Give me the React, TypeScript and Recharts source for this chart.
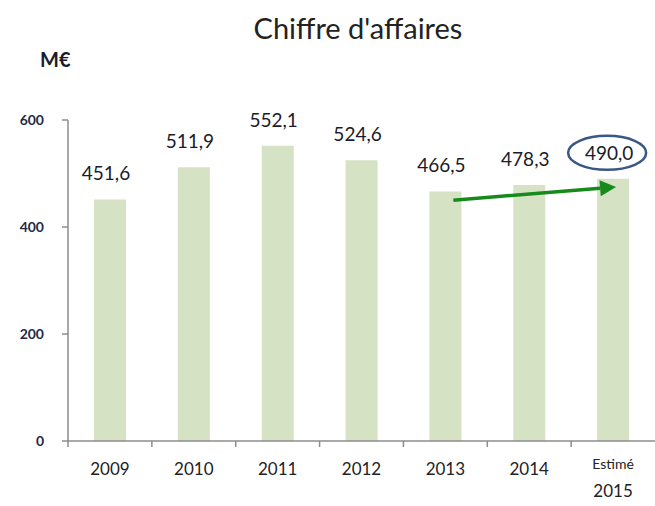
import { BarChart, Bar, XAxis, YAxis, LabelList, ReferenceLine } from 'recharts';

const years = ['2009', '2010', '2011', '2012', '2013', '2014', 'Estimé 2015'];
const revenue = [451.6, 511.9, 552.1, 524.6, 466.5, 478.3, 490.0];
const yTicks = [0, 200, 400, 600];
// trend arrow from 2013 to the 2015 estimate
const arrowFrom = { x: '2013', y: 450 };
const arrowTo = { x: 'Estimé 2015', y: 475 };

const data = years.map((year, i) => ({ year, value: revenue[i] }));

const FONT = 'Lato, "Open Sans", sans-serif';
const fmt = (v: number) => v.toFixed(1).replace('.', ',');

function YearTick(props: any) {
  const { x, y, payload } = props;
  const half = payload.offset ?? 42;
  const label: string = payload.value;
  const parts = label.split(' ');
  return (
    <g>
      <line x1={x - half} y1={y - 8} x2={x - half} y2={y - 2} stroke="#8c8c8c" strokeWidth={1.5} />
      {parts.length > 1 ? (
        <text x={x} textAnchor="middle" fill="#222" fontFamily={FONT}>
          <tspan x={x} y={y + 20} fontSize={14}>{parts[0]}</tspan>
          <tspan x={x} y={y + 48} fontSize={17}>{parts[1]}</tspan>
        </text>
      ) : (
        <text x={x} y={y + 26} textAnchor="middle" fill="#222" fontSize={17} fontFamily={FONT}>
          {label}
        </text>
      )}
    </g>
  );
}

function ValueLabel(props: any) {
  const { x, y, width, value, index } = props;
  const cx = x + width / 2;
  return (
    <g>
      {index === revenue.length - 1 && (
        <ellipse cx={cx - 6} cy={y - 26} rx={39} ry={17} fill="none" stroke="#3b5785" strokeWidth={2.5} />
      )}
      <text x={cx - 4} y={y - 19} textAnchor="middle" fill="#1b1b2a" fontSize={19} fontFamily={FONT}>
        {fmt(value)}
      </text>
    </g>
  );
}

function Arrow(props: any) {
  const { x1, y1, x2, y2 } = props;
  if (x1 == null) return null;
  const sx = x1 + 8;
  const ex = x2 + 3;
  const ang = Math.atan2(y2 - y1, ex - sx);
  const len = 16;
  const w = 8;
  const bx = ex - len * Math.cos(ang);
  const by = y2 - len * Math.sin(ang);
  const px = -Math.sin(ang) * w;
  const py = Math.cos(ang) * w;
  return (
    <g>
      <line x1={sx} y1={y1} x2={bx} y2={by} stroke="#178a1c" strokeWidth={3.5} />
      <polygon points={`${ex},${y2} ${bx + px},${by + py} ${bx - px},${by - py}`} fill="#178a1c" />
    </g>
  );
}

export default function App() {
  return (
    <div style={{ position: 'absolute', left: 0, top: 0, width: 655, height: 506, background: '#fff' }}>
      <div
        style={{
          position: 'absolute',
          left: 0,
          width: 716,
          top: 10,
          textAlign: 'center',
          fontFamily: FONT,
          fontSize: 29,
          color: '#222',
        }}
      >
        Chiffre d'affaires
      </div>
      <div style={{ position: 'absolute', left: 40, top: 47, fontFamily: FONT, fontSize: 20, fontWeight: 700, color: '#1b1b2a' }}>
        M€
      </div>
      <BarChart width={655} height={506} data={data} margin={{ top: 120, right: 0, left: 0, bottom: 5 }}>
        <XAxis
          dataKey="year"
          height={60}
          axisLine={{ stroke: '#8c8c8c', strokeWidth: 1.5 }}
          tickLine={false}
          tick={<YearTick />}
          interval={0}
        />
        <YAxis
          width={68}
          domain={[0, 600]}
          ticks={yTicks}
          axisLine={{ stroke: '#8c8c8c', strokeWidth: 1.5 }}
          tickLine={{ stroke: '#8c8c8c', strokeWidth: 1.5 }}
          tickSize={6}
          tick={{ fontSize: 14, fontWeight: 700, fill: '#1f2a44', fontFamily: FONT, dx: -16 }}
        />
        <Bar dataKey="value" fill="#d6e2c4" barSize={32} isAnimationActive={false}>
          <LabelList dataKey="value" content={<ValueLabel />} />
        </Bar>
        <ReferenceLine segment={[arrowFrom, arrowTo]} shape={<Arrow />} ifOverflow="visible" />
      </BarChart>
    </div>
  );
}
